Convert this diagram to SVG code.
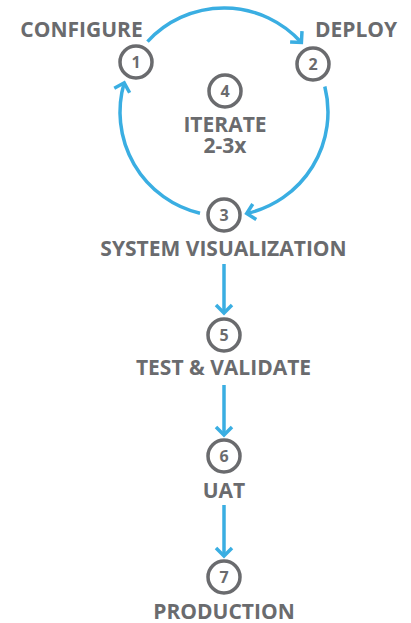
<svg xmlns="http://www.w3.org/2000/svg" width="411" height="623" viewBox="0 0 411 623">
<style>
.lbl{font-family:"Open Sans","Liberation Sans",sans-serif;font-weight:bold;font-size:21px;fill:#6a6b6e;text-anchor:middle}
.num{font-family:"Open Sans","Liberation Sans",sans-serif;font-weight:bold;font-size:16px;fill:#6a6b6e;text-anchor:middle}
.ring{fill:none;stroke:#6a6b6e;stroke-width:3.5}
.con{fill:none;stroke:#3aaee2;stroke-width:3.5}
</style>
<defs>
<marker id="arr" markerUnits="userSpaceOnUse" viewBox="-12 -12 24 24" markerWidth="24" markerHeight="24" refX="0" refY="0" orient="auto" overflow="visible">
<path d="M-8,-8 L0,0 L-8,8" fill="none" stroke="#3aaee2" stroke-width="3.5"/>
</marker>
</defs>
<rect width="411" height="623" fill="#ffffff"/>
<g id="connectors">
<path class="con" d="M147.5,41.6 A104,104 0 0 1 301.4,42.5" marker-end="url(#arr)"/>
<path class="con" d="M324.8,86.5 A104,104 0 0 1 246.7,213.5" marker-end="url(#arr)"/>
<path class="con" d="M200,213.2 A104,104 0 0 1 124.2,82.8" marker-end="url(#arr)"/>
<path class="con" d="M224,264 L224,313" marker-end="url(#arr)"/>
<path class="con" d="M224,385 L224,435" marker-end="url(#arr)"/>
<path class="con" d="M224,505 L224,556" marker-end="url(#arr)"/>
</g>
<g id="n1"><circle class="ring" cx="136" cy="62" r="16"/><text class="num" x="136" y="68">1</text><text class="lbl" x="81.5" y="37">CONFIGURE</text></g>
<g id="n2"><circle class="ring" cx="313" cy="64" r="16"/><text class="num" x="313" y="70">2</text><text class="lbl" x="356" y="37">DEPLOY</text></g>
<g id="n4"><circle class="ring" cx="225" cy="91" r="16"/><text class="num" x="225" y="97">4</text><text class="lbl" x="225" y="132">ITERATE</text><text class="lbl" x="225" y="152.5">2-3x</text></g>
<g id="n3"><circle class="ring" cx="224" cy="215" r="16"/><text class="num" x="224" y="221">3</text><text class="lbl" x="223.5" y="256">SYSTEM VISUALIZATION</text></g>
<g id="n5"><circle class="ring" cx="224" cy="335" r="16"/><text class="num" x="224" y="341">5</text><text class="lbl" x="223.5" y="375">TEST &amp; VALIDATE</text></g>
<g id="n6"><circle class="ring" cx="224" cy="456" r="16"/><text class="num" x="224" y="462">6</text><text class="lbl" x="224" y="498">UAT</text></g>
<g id="n7"><circle class="ring" cx="224" cy="577" r="16"/><text class="num" x="224" y="583">7</text><text class="lbl" x="224" y="619">PRODUCTION</text></g>
</svg>
